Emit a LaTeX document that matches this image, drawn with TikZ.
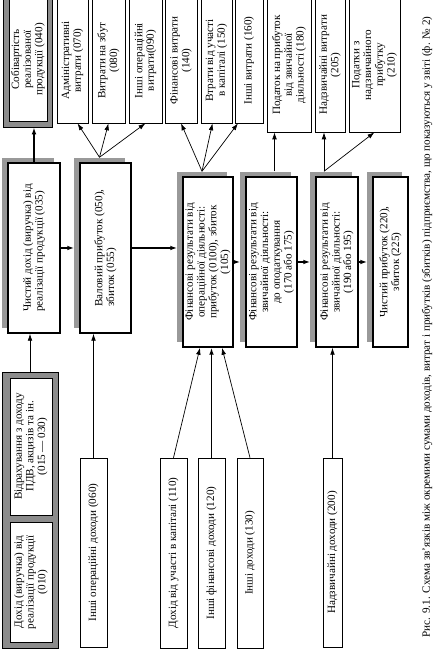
\documentclass[tikz,border=0pt]{standalone}
\usepackage{fontspec}
\setmainfont{Liberation Serif}
\usepackage{tikz}
\usetikzlibrary{arrows.meta, calc}

\definecolor{framegray}{gray}{0.55}
\definecolor{shadowgray}{gray}{0.6}
\newcommand{\boxfont}{\fontsize{9.5}{10}\selectfont}
\newcommand{\capfont}{\fontsize{9.5}{11}\selectfont}

\tikzset{
	plainbox/.style={draw, fill=white, line width=0.5pt, inner sep=1pt, align=center, font=\boxfont},
	resbox/.style={plainbox, line width=1.2pt, preaction={fill=shadowgray, transform canvas={xshift=-0.18cm, yshift=0.15cm}}},
	grayframe/.style={draw, fill=framegray, line width=0.5pt},
	flow/.style={-{Latex[length=6pt, width=4pt]}, line width=0.6pt},
	mainflow/.style={flow, line width=1.3pt}
}

\begin{document}
\begin{tikzpicture}[x=0.03cm, y=0.03cm, rotate=90, transform shape]
		\useasboundingbox (0, 0) rectangle (655, 434);
		\node[grayframe, minimum width=3.87cm, minimum height=1.47cm] (costframe) at (592.5, 406.5){};
		\node[plainbox, minimum width=3.69cm, minimum height=1.14cm] (cost) at (595.5, 406){Собівартість\\реалізованої\\продукції (040)};
		\node[plainbox, minimum width=3.75cm, minimum height=0.93cm] (adminexp) at (594.5, 361.5){Адміністративні\\витрати (070)};
		\node[plainbox, minimum width=3.75cm, minimum height=0.99cm] (salesexp) at (594.5, 325.5){Витрати на збут\\(080)};
		\node[plainbox, minimum width=3.75cm, minimum height=0.99cm] (otheropexp) at (594.5, 288.5){Інші операційні\\витрати(090)};
		\node[plainbox, minimum width=3.75cm, minimum height=0.96cm] (finexp) at (594.5, 253){Фінансові витрати\\(140)};
		\node[plainbox, minimum width=3.75cm, minimum height=0.93cm] (partloss) at (594.5, 217.5){Втрати від участі\\в капіталі (150)};
		\node[plainbox, minimum width=3.75cm, minimum height=0.84cm] (otherexp) at (594.5, 185){Інші витрати (160)};
		\node[plainbox, minimum width=4.02cm, minimum height=1.32cm] (profittax) at (590, 145){Податок на прибуток\\від звичайної\\діяльності (180)};
		\node[plainbox, minimum width=4.02cm, minimum height=0.9cm] (extraexp) at (590, 104){Надзвичайні витрати\\(205)};
		\node[plainbox, minimum width=4.02cm, minimum height=1.53cm] (extratax) at (590, 59.5){Податки з\\надзвичайного\\прибутку\\(210)};
		\node[resbox, align=left, minimum width=5.1cm, minimum height=1.56cm] (netinc) at (407, 400){Чистий дохід (виручка) від\\реалізації продукції (035)};
		\node[resbox, align=left, minimum width=5.1cm, minimum height=1.53cm] (gross) at (407, 328.5){Валовий прибуток (050),\\збиток (055)};
		\node[resbox, minimum width=5.1cm, minimum height=1.5cm] (opres) at (393, 226){Фінансові результати від\\операційної діяльності:\\прибуток (0100), збиток\\(105)};
		\node[resbox, minimum width=5.1cm, minimum height=1.53cm] (pretaxres) at (393, 162.5){Фінансові результати від\\звичайної діяльності:\\до оподаткування\\(170 або 175)};
		\node[resbox, minimum width=5.1cm, minimum height=1.26cm] (ordres) at (393, 97){Фінансові результати від\\звичайної діяльності:\\(190 або 195)};
		\node[resbox, minimum width=5.1cm, minimum height=1.05cm] (netprofit) at (393, 43.5){Чистий прибуток (220),\\збиток (225)};
		\node[grayframe, minimum width=8.28cm, minimum height=1.68cm] (incframe) at (145, 404){};
		\node[plainbox, minimum width=4.11cm, minimum height=1.26cm] (deduct) at (208.5, 403){Відрахування з доходу\\ПДВ, акцизів та ін.\\(015 — 030)};
		\node[plainbox, minimum width=3.6cm, minimum height=1.26cm] (grossinc) at (73, 403){Дохід (виручка) від\\реалізації продукції\\(010)};
		\node[plainbox, minimum width=5.67cm, minimum height=0.81cm] (otheropinc) at (102.5, 340.5){Інші операційні доходи (060)};
		\node[plainbox, minimum width=5.7cm, minimum height=0.81cm] (partinc) at (102, 260.5){Дохід від участі в капіталі (110)};
		\node[plainbox, minimum width=5.7cm, minimum height=0.81cm] (fininc) at (102, 222.5){Інші фінансові доходи (120)};
		\node[plainbox, minimum width=5.7cm, minimum height=0.78cm] (otherinc) at (102, 184){Інші доходи (130)};
		\node[plainbox, minimum width=5.67cm, minimum height=0.57cm] (extrainc) at (102.5, 101.5){Надзвичайні доходи (200)};
		\node[font=\capfont, inner sep=0pt] (caption) at (328, 7){Рис. 9.1. Схема зв’язків між окремими сумами доходів, витрат і прибутків (збитків) підприємства, що показуються у звіті (ф. № 2)};
		\draw[mainflow] (netinc.east) -- (netinc.east -| costframe.west);
		\draw[flow] (incframe.east) -- (incframe.east -| netinc.west);
		\draw[mainflow, shorten >=0.15cm] (netinc.south) -- (netinc.south |- gross.north);
		\draw[mainflow, shorten >=0.15cm] (gross.south) -- (gross.south |- opres.north);
		\draw[mainflow, shorten >=0.15cm] (opres.south) -- (opres.south |- pretaxres.north);
		\draw[mainflow, shorten >=0.15cm] (pretaxres.south) -- (pretaxres.south |- ordres.north);
		\draw[mainflow, shorten >=0.15cm] (ordres.south) -- (ordres.south |- netprofit.north);
		\coordinate (grosstop) at ($(gross.east)+(5, 6)$);
		\draw[flow] (grosstop) -- ($(adminexp.west)+(0, -5)$);
		\draw[flow] (grosstop) -- (salesexp.west);
		\draw[flow] (grosstop) -- (otheropexp.west);
		\coordinate (optop) at ($(opres.east)+(5, 6)$);
		\draw[flow] (optop) -- (finexp.west);
		\draw[flow] (optop) -- ($(partloss.west)+(0, 4)$);
		\draw[flow] (optop) -- ($(otherexp.west)+(0, 11)$);
		\coordinate (pretaxtop) at ($(pretaxres.east)+(5, -3)$);
		\draw[flow] (pretaxtop) -- (pretaxtop -| profittax.west);
		\coordinate (ordtop) at ($(ordres.east)+(5, 13)$);
		\draw[flow] (ordtop) -- (ordtop -| extraexp.west);
		\draw[flow] (ordtop) -- (extratax.west);
		\draw[flow] (otheropinc.east) -- (otheropinc.east -| gross.west);
		\draw[flow] (partinc.east) -- ($(opres.west)+(0, 8)$);
		\draw[mainflow] (fininc.east) -- (fininc.east -| opres.west);
		\draw[flow] (otherinc.east) -- ($(opres.west)+(0, -14)$);
		\draw[flow] (extrainc.east) -- (extrainc.east -| ordres.west);
	\end{tikzpicture}
\end{document}
